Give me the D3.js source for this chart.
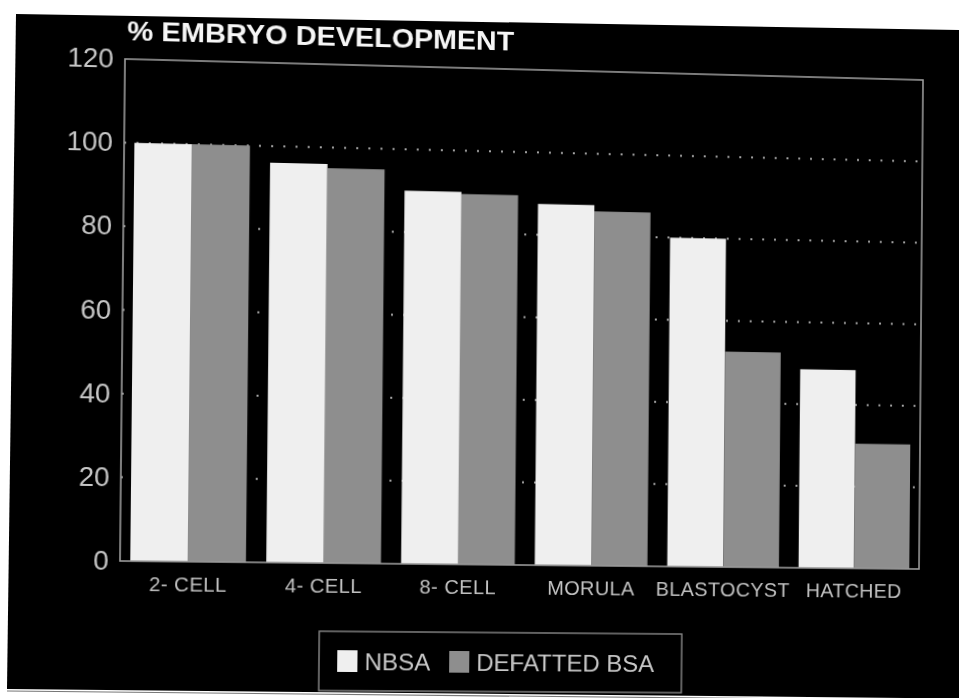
<!DOCTYPE html>
<html>
<head>
<meta charset="utf-8">
<script src="https://cdn.jsdelivr.net/npm/d3@7"></script>
<style>
  html, body { margin: 0; padding: 0; background: #fff; overflow: hidden; }
  #stage { position: absolute; left: 0; top: 0; width: 959px; height: 698px; }
  #slide, #chart { position: absolute; left: 0; top: 0; }
  #chart { transform-origin: 0 0; }
  text { font-family: "Liberation Sans", Arial, Helvetica, sans-serif; }
</style>
</head>
<body>
<div id="stage">
  <svg id="slide" width="959" height="698"></svg>
  <svg id="chart" width="959" height="698"></svg>
</div>
<script>
// ---- data ----
const categories = ["2- CELL", "4- CELL", "8- CELL", "MORULA", "BLASTOCYST", "HATCHED"];
const seriesNames = ["NBSA", "DEFATTED BSA"];
const nbsa = [100, 96, 90, 87.5, 80, 48.5];
const defattedBsa = [100, 95, 89.5, 86, 52.5, 30.5];
const yTicks = [0, 20, 40, 60, 80, 100, 120];
const titleText = "% EMBRYO DEVELOPMENT";

const seriesValues = [nbsa, defattedBsa];
const seriesColors = ["#efefef", "#8e8e8e"];

// ---- slide backdrop (black card on white) ----
const slide = d3.select("#slide");
slide.append("polygon")
  .attr("points", "16,14 959,30 959,698 905,698 7,689")
  .attr("fill", "#000");
slide.append("line")
  .attr("x1", 7).attr("y1", 691).attr("x2", 905).attr("y2", 700)
  .attr("stroke", "#777").attr("stroke-width", 1.2);

// ---- chart, drawn flat ----
const plot = { left: 122, right: 921, top: 62, bottom: 567 };
const svg = d3.select("#chart");

const x = d3.scaleBand()
  .domain(categories)
  .range([plot.left, plot.right])
  .paddingInner(0.15)
  .paddingOuter(0.075);

const xSub = d3.scaleBand()
  .domain(seriesNames)
  .range([0, x.bandwidth()])
  .padding(0);

const y = d3.scaleLinear()
  .domain([0, 120])
  .range([plot.bottom, plot.top]);

// dotted grid lines
svg.append("g")
  .selectAll("line")
  .data(yTicks.filter(t => t > 0 && t < 120))
  .join("line")
  .attr("x1", plot.left).attr("x2", plot.right)
  .attr("y1", d => y(d)).attr("y2", d => y(d))
  .attr("stroke", "#a9a9a9")
  .attr("stroke-width", 2)
  .attr("stroke-dasharray", "2 10");

// bars
const rows = categories.map((c, i) => ({
  cat: c,
  vals: seriesNames.map((s, j) => ({ key: s, value: seriesValues[j][i], color: seriesColors[j] }))
}));

svg.append("g")
  .selectAll("g")
  .data(rows)
  .join("g")
  .attr("transform", d => `translate(${x(d.cat)},0)`)
  .selectAll("rect")
  .data(d => d.vals)
  .join("rect")
  .attr("x", d => xSub(d.key))
  .attr("width", xSub.bandwidth())
  .attr("y", d => y(d.value))
  .attr("height", d => y(0) - y(d.value))
  .attr("fill", d => d.color);

// plot frame
svg.append("rect")
  .attr("x", plot.left).attr("y", plot.top)
  .attr("width", plot.right - plot.left)
  .attr("height", plot.bottom - plot.top)
  .attr("fill", "none")
  .attr("stroke", "#9c9c9c")
  .attr("stroke-width", 1.6);

// y axis labels
const yAxis = d3.axisLeft(y).tickValues(yTicks).tickSize(0).tickPadding(11);
const yG = svg.append("g").attr("transform", `translate(${plot.left},0)`).call(yAxis);
yG.select(".domain").remove();
yG.selectAll("text")
  .attr("fill", "#c6c6c6")
  .style("font-size", "27px")
  .style("font-family", "'Liberation Sans', Arial, sans-serif");

// x axis labels
const xAxis = d3.axisBottom(x).tickSize(0).tickPadding(16);
const xG = svg.append("g").attr("transform", `translate(0,${plot.bottom})`).call(xAxis);
xG.select(".domain").remove();
xG.selectAll("text")
  .attr("fill", "#c2c2c2")
  .style("font-size", "20px")
  .style("letter-spacing", "0.4px")
  .style("font-family", "'Liberation Sans', Arial, sans-serif");

// title
svg.append("text")
  .attr("x", 124).attr("y", 43)
  .attr("fill", "#f6f6f6")
  .style("font-size", "28.5px")
  .style("font-weight", "bold")
  .text(titleText);

// legend
const legend = svg.append("g").attr("transform", "translate(318,636)");
legend.append("rect")
  .attr("width", 362).attr("height", 60)
  .attr("fill", "none")
  .attr("stroke", "#8a8a8a")
  .attr("stroke-width", 1.4);
const legendX = [18, 129];
const items = legend.selectAll("g.item")
  .data(seriesNames)
  .join("g")
  .attr("class", "item")
  .attr("transform", (d, i) => `translate(${legendX[i]},19)`);
items.append("rect")
  .attr("width", 20).attr("height", 22)
  .attr("fill", (d, i) => seriesColors[i]);
items.append("text")
  .attr("x", 27).attr("y", 20)
  .attr("fill", "#c8c8c8")
  .style("font-size", "24px")
  .text(d => d);

// ---- perspective of the photographed slide ----
function homography(src, dst) {
  const A = [], b = [];
  for (let i = 0; i < 4; i++) {
    const [sx, sy] = src[i], [u, v] = dst[i];
    A.push([sx, sy, 1, 0, 0, 0, -u * sx, -u * sy]); b.push(u);
    A.push([0, 0, 0, sx, sy, 1, -v * sx, -v * sy]); b.push(v);
  }
  const n = 8;
  for (let c = 0; c < n; c++) {
    let p = c;
    for (let r = c + 1; r < n; r++) if (Math.abs(A[r][c]) > Math.abs(A[p][c])) p = r;
    [A[c], A[p]] = [A[p], A[c]]; [b[c], b[p]] = [b[p], b[c]];
    for (let r = c + 1; r < n; r++) {
      const f = A[r][c] / A[c][c];
      for (let k = c; k < n; k++) A[r][k] -= f * A[c][k];
      b[r] -= f * b[c];
    }
  }
  const h = new Array(n);
  for (let r = n - 1; r >= 0; r--) {
    let s = b[r];
    for (let k = r + 1; k < n; k++) s -= A[r][k] * h[k];
    h[r] = s / A[r][r];
  }
  return h;
}

const src = [[plot.left, plot.top], [plot.right, plot.top], [plot.right, plot.bottom], [plot.left, plot.bottom]];
const dst = [[125, 59], [923, 80], [919, 569], [120, 561]];
const [a, bb, c, d, e, f, g, h] = homography(src, dst);
document.getElementById("chart").style.transform =
  `matrix3d(${a},${d},0,${g},${bb},${e},0,${h},0,0,1,0,${c},${f},0,1)`;
</script>
</body>
</html>
